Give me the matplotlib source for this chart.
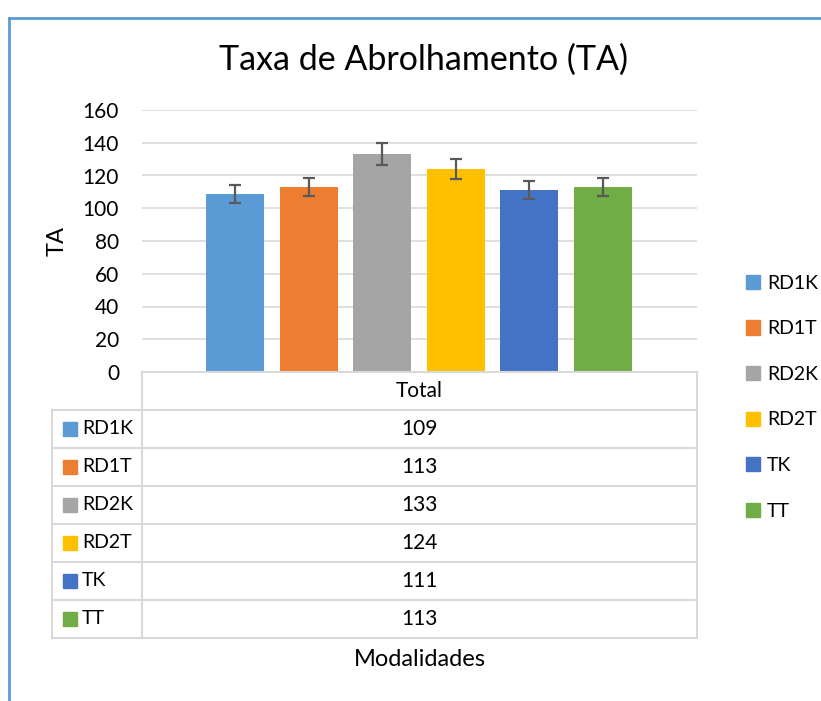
import numpy as np
import matplotlib.pyplot as plt
from matplotlib.lines import Line2D
from matplotlib.patches import Rectangle

# dados
modalidades = ["RD1K", "RD1T", "RD2K", "RD2T", "TK", "TT"]
ta_total = [109, 113, 133, 124, 111, 113]
erro = [5.5, 5.7, 6.7, 6.2, 5.6, 5.7]
cores = ["#5b9bd5", "#ed7d31", "#a5a5a5", "#ffc000", "#4472c4", "#70ad47"]
yticks = [0, 20, 40, 60, 80, 100, 120, 140, 160]

plt.rcParams['font.family'] = ['Lato', 'DejaVu Sans']

W, H = 821, 701
fig = plt.figure(figsize=(W / 100, H / 100), dpi=100)

def fx(px):
    return px / W

def fy(py):
    return 1 - py / H

# moldura azul
fig.add_artist(Line2D([fx(9), fx(9)], [fy(18), 0], color="#5b9bd5", lw=2))
fig.add_artist(Line2D([fx(9), 1], [fy(18), fy(18)], color="#5b9bd5", lw=2))

left, right, top, bottom = 142, 697, 110, 372
ax = fig.add_axes([fx(left), fy(bottom), fx(right - left), fy(top) - fy(bottom)])

x = np.arange(len(modalidades))
ax.bar(x, ta_total, width=58 / 73.5, color=cores, zorder=2)
ax.errorbar(x, ta_total, yerr=erro, fmt="none", ecolor="#595959",
            elinewidth=1.6, capsize=4, capthick=1.6, zorder=3)

ax.set_xlim(-93 / 73.5, 5 + 94 / 73.5)
ax.set_ylim(0, 160)
ax.set_yticks(yticks)
ax.set_xticks([])
ax.tick_params(axis="y", length=0, labelsize=15, pad=16.5)
ax.yaxis.grid(True, color="#d9d9d9", lw=1.2, zorder=0)
for s in ["top", "right", "left", "bottom"]:
    ax.spines[s].set_visible(False)
ax.set_ylabel("TA", fontsize=17, labelpad=11)

fig.text(fx(423), fy(60), "Taxa de Abrolhamento (TA)", fontsize=24.5,
         ha="center", va="center")

# tabela de dados
gc = "#d9d9d9"
tl, split, tr = 52, 142, 697
row_h = 38
y0 = bottom
fig.add_artist(Line2D([fx(split), fx(tr)], [fy(y0), fy(y0)], color=gc, lw=1.5))
for i in range(len(modalidades) + 1):
    yy = y0 + row_h * (i + 1)
    fig.add_artist(Line2D([fx(tl), fx(tr)], [fy(yy), fy(yy)], color=gc, lw=1.5))
y_end = y0 + row_h * (len(modalidades) + 1)
fig.add_artist(Line2D([fx(split), fx(split)], [fy(y0), fy(y_end)], color=gc, lw=1.5))
fig.add_artist(Line2D([fx(tr), fx(tr)], [fy(y0), fy(y_end)], color=gc, lw=1.5))
fig.add_artist(Line2D([fx(tl), fx(tl)], [fy(y0 + row_h), fy(y_end)], color=gc, lw=1.5))

mid = (split + tr) / 2
fig.text(fx(mid), fy(y0 + row_h / 2), "Total", fontsize=15, ha="center", va="center")
for i, (m, v, c) in enumerate(zip(modalidades, ta_total, cores)):
    yc = y0 + row_h * (i + 1) + row_h / 2
    fig.add_artist(Rectangle((fx(63), fy(yc + 7)), fx(14), fy(yc - 7) - fy(yc + 7),
                             color=c))
    fig.text(fx(82), fy(yc), m, fontsize=14, ha="left", va="center")
    fig.text(fx(mid), fy(yc), str(v), fontsize=15, ha="center", va="center")

fig.text(fx(mid), fy(660), "Modalidades", fontsize=17, ha="center", va="center")

# legenda
handles = [Rectangle((0, 0), 1, 1, color=c) for c in cores]
fig.legend(handles, modalidades, loc="upper left", bbox_to_anchor=(fx(736), fy(265)),
           frameon=False, fontsize=14, handlelength=0.75, handleheight=0.75,
           handletextpad=0.35, labelspacing=1.47, borderpad=0)

fig.savefig("out.png", dpi=100)
